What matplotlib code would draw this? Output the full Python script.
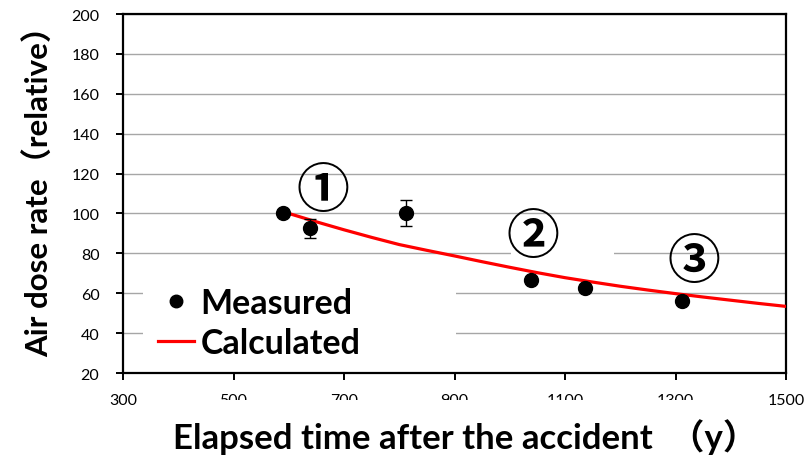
import matplotlib
matplotlib.use("Agg")
import matplotlib.pyplot as plt
from matplotlib.patches import Rectangle
from matplotlib.lines import Line2D

# measured points (relative air dose rate)
meas_t = [590, 638, 812, 1038, 1136, 1311]
meas_v = [100, 92.5, 100, 66.6, 62.8, 56]
meas_err = [0, 4.8, 6.5, 1.5, 0, 0]

# calculated curve
calc_t = [600, 650, 700, 750, 800, 850, 900, 950, 1000, 1050, 1100, 1150,
          1200, 1250, 1300, 1350, 1400, 1450, 1500]
calc_v = [100, 95.8, 91.8, 88.0, 84.4, 81.5, 78.7, 75.8, 73.0, 70.3, 67.8, 65.6,
          63.5, 61.6, 59.8, 58.1, 56.5, 54.9, 53.4]

xticks = [300, 500, 700, 900, 1100, 1300, 1500]
yticks = list(range(20, 201, 20))

labels = [("①", 662, 111.5), ("②", 1042, 88.5), ("③", 1334, 76)]

fam = ["Lato", "Noto Sans CJK JP", "DejaVu Sans"]
cjk = ["Noto Sans CJK JP", "DejaVu Sans"]

fig = plt.figure(figsize=(8.11, 4.56), dpi=100)
ax = fig.add_axes([0.1517, 0.1798, 0.8175, 0.7873])

ax.set_xlim(300, 1500)
ax.set_ylim(20, 200)
ax.set_xticks(xticks)
ax.set_yticks(yticks)
ax.yaxis.grid(True, color="#a6a6a6", lw=1.0)
ax.set_axisbelow(True)
for s in ax.spines.values():
    s.set_linewidth(1.6)
    s.set_color("black")
ax.tick_params(axis="both", direction="out", length=5, width=1.4, labelsize=11.5)
ax.tick_params(axis="y", pad=12)
ax.tick_params(axis="x", pad=9.5)
for t in ax.get_xticklabels() + ax.get_yticklabels():
    t.set_family(fam)

ax.plot(calc_t, calc_v, color="#ff0000", lw=2.3, zorder=3, solid_capstyle="butt")
ax.errorbar(meas_t, meas_v, yerr=meas_err, fmt="o", color="black", ms=10,
            ecolor="black", elinewidth=1, capsize=4, capthick=1, zorder=4)

for txt, x, y in labels:
    if txt == "②":
        ax.add_patch(Rectangle((0.585, 0.27), 0.155, 0.11, transform=ax.transAxes,
                               facecolor="white", edgecolor="none", zorder=1.5))
    ax.text(x, y, txt, fontsize=38, family=cjk, weight="bold", ha="center",
            va="center", zorder=5)

# white block behind the legend
ax.add_patch(Rectangle((0.03, 0.0), 0.472, 0.30, transform=ax.transAxes,
                       facecolor="white", edgecolor="none", zorder=1.5))

h1 = Line2D([], [], marker="o", ls="none", color="black", ms=9)
h2 = Line2D([], [], color="#ff0000", lw=2.3)
leg = ax.legend([h1, h2], ["Measured", "Calculated"], loc="center left",
                bbox_to_anchor=(0.0528, 0.139), frameon=False,
                prop=dict(family=fam, weight="bold", size=24.5),
                handlelength=1.05, handletextpad=0.2, labelspacing=0.25,
                borderpad=0, borderaxespad=0)
leg.set_zorder(6)

# white block behind x label, clips the middle tick labels like the original
fig.patches.append(Rectangle((170 / 811, 0), 575 / 811, 55 / 456,
                             transform=fig.transFigure, facecolor="white",
                             edgecolor="none", zorder=2))
fig.text(465 / 811, 1 - 437 / 456, "Elapsed time after the accident  （y）",
         ha="center", va="center", fontsize=25, weight="bold", family=fam, zorder=3)
fig.text(39 / 811, 1 - 184 / 456, "Air dose rate（relative）", rotation=90,
         ha="center", va="center", fontsize=22.5, weight="bold", family=fam)

fig.savefig("out.png", dpi=100)
